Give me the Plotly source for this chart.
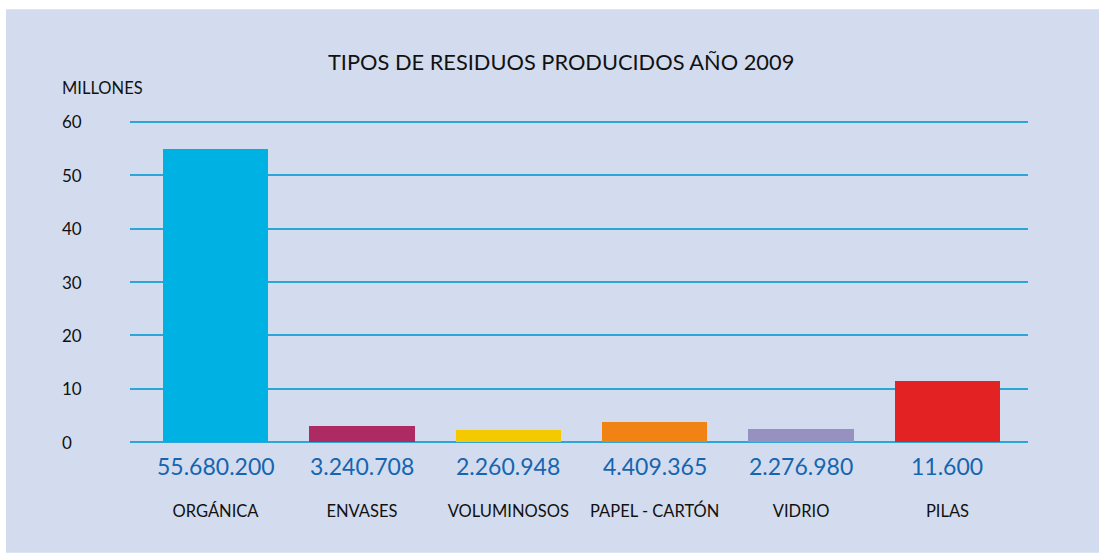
import plotly.graph_objects as go

categories = ["ORGÁNICA", "ENVASES", "VOLUMINOSOS", "PAPEL - CARTÓN", "VIDRIO", "PILAS"]
bar_values = [54.9, 3.0, 2.25, 3.75, 2.6, 11.4]
value_labels = ["55.680.200", "3.240.708", "2.260.948", "4.409.365", "2.276.980", "11.600"]
bar_colors = ["#00B1E4", "#AD2A63", "#F5C900", "#F08314", "#9791C2", "#E32323"]
y_ticks = [0, 10, 20, 30, 40, 50, 60]

FONT = "Lato"
BG = "#D3DCEE"

# geometry (pixels)
PX_PER_UNIT = 320 / 60
PAD = 0.3
L, R = 130, 1099 - 1028
T = 122 - PAD * PX_PER_UNIT
B = 553 - 442 - PAD * PX_PER_UNIT
PW, PH = 1099 - L - R, 553 - T - B

fig = go.Figure()
fig.add_trace(go.Bar(
    x=list(range(len(categories))),
    y=bar_values,
    marker=dict(color=bar_colors, line=dict(width=0)),
    width=0.72,
    hoverinfo="skip",
))

annotations = []
for i, lab in enumerate(value_labels):
    annotations.append(dict(
        x=i, y=0, xref="x", yref="y", text=lab, showarrow=False,
        yshift=-24, font=dict(family=FONT, size=23, color="#1565B0"),
        xanchor="center", yanchor="middle"))
for t in y_ticks:
    annotations.append(dict(
        x=0, y=t, xref="x domain", yref="y", text=str(t), showarrow=False,
        xshift=-70, font=dict(family=FONT, size=17, color="#111111"),
        xanchor="left", yanchor="middle"))
annotations.append(dict(
    x=0, y=60, xref="x domain", yref="y", text="MILLONES", showarrow=False,
    xshift=-70, yshift=34, font=dict(family=FONT, size=16.5, color="#111111"),
    xanchor="left", yanchor="middle"))
annotations.append(dict(
    x=0.48, y=60, xref="x domain", yref="y", text="TIPOS DE RESIDUOS PRODUCIDOS AÑO 2009",
    showarrow=False, yshift=60, font=dict(family=FONT, size=21.8, color="#111111"),
    xanchor="center", yanchor="middle"))

fig.update_layout(
    width=1099, height=553,
    margin=dict(l=L, r=R, t=T, b=B),
    paper_bgcolor="white",
    plot_bgcolor=BG,
    showlegend=False,
    annotations=annotations,
    shapes=[dict(type="rect", xref="paper", yref="paper",
                 x0=(6 - L) / PW, x1=(1099 - L) / PW,
                 y0=(553 - B - 552) / PH, y1=(553 - B - 10) / PH,
                 fillcolor=BG, line=dict(width=0), layer="below")],
    xaxis=dict(
        tickmode="array", tickvals=list(range(len(categories))), ticktext=categories,
        range=[-0.584, 5.55], showgrid=False, zeroline=False, showline=False,
        ticks="", tickfont=dict(family=FONT, size=16.5, color="#111111"),
        ticklabelstandoff=55, fixedrange=True,
    ),
    yaxis=dict(
        range=[-PAD, 60 + PAD], tickvals=y_ticks, showticklabels=False,
        showgrid=True, gridcolor="#2BA6D6", gridwidth=1.5,
        zeroline=False, showline=False, ticks="", fixedrange=True,
    ),
    bargap=0,
)

fig.write_html("out.html", config={"displayModeBar": False},
               post_script="document.body.style.margin='0';document.body.style.padding='0';")
